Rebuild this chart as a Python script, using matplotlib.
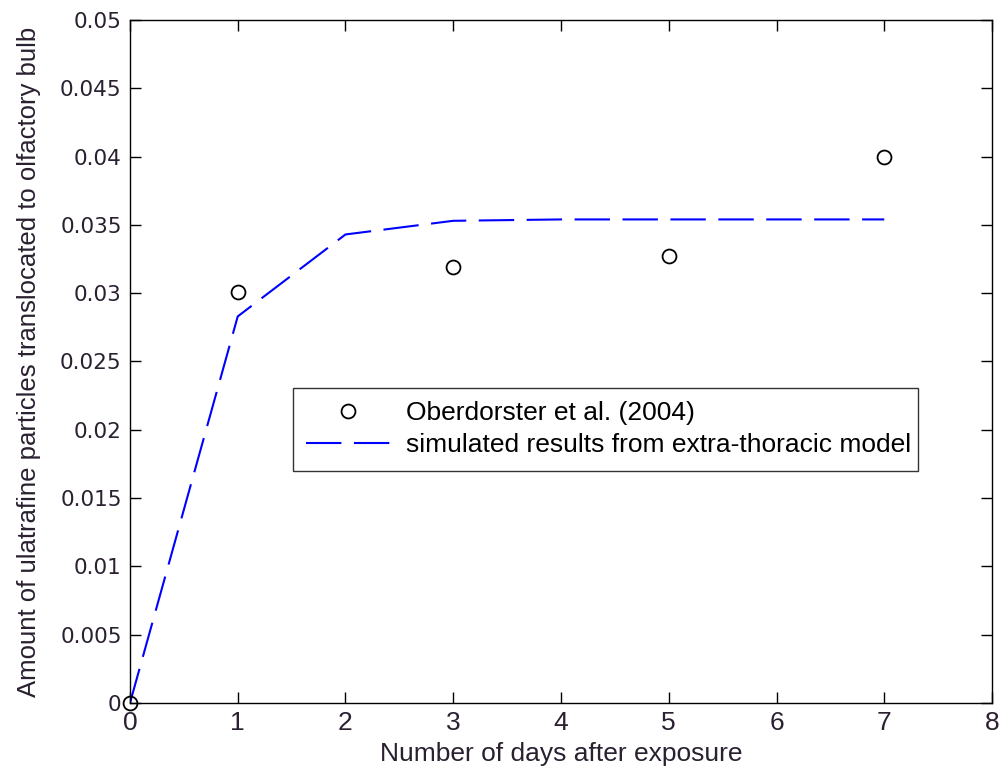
import matplotlib.pyplot as plt

# measured points
obs_days = [0, 1, 3, 5, 7]
obs_amount = [0.0, 0.0301, 0.0319, 0.0327, 0.0400]

# extra-thoracic model output
sim_days = [0, 1, 2, 3, 4, 5, 6, 7]
sim_amount = [0.0, 0.0283, 0.0343, 0.0353, 0.0354, 0.0354, 0.0354, 0.0354]

xticks = [0, 1, 2, 3, 4, 5, 6, 7, 8]
yticks = [0, 0.005, 0.01, 0.015, 0.02, 0.025, 0.03, 0.035, 0.04, 0.045, 0.05]
ytick_labels = ['0', '0.005', '0.01', '0.015', '0.02', '0.025', '0.03',
                '0.035', '0.04', '0.045', '0.05']

sans = 'Liberation Sans'

fig = plt.figure(figsize=(10.06, 7.78), dpi=100)
ax = fig.add_axes([0.1292, 0.0964, 0.8569, 0.8779])

ax.plot(obs_days, obs_amount, linestyle='none', marker='o', markersize=10,
        markerfacecolor='none', markeredgecolor='black', markeredgewidth=1.3,
        clip_on=False, label='Oberdorster et al. (2004)', zorder=3)
ax.plot(sim_days, sim_amount, color='#0000ff', linewidth=1.5,
        dashes=(17, 6), label='simulated results from extra-thoracic model',
        zorder=2)

ax.set_xlim(0, 8)
ax.set_ylim(0, 0.05)
ax.set_xticks(xticks)
ax.set_yticks(yticks)
ax.set_xticklabels([str(t) for t in xticks], family=sans, fontsize=19,
                   color='#2a2030')
ax.set_yticklabels(ytick_labels, family='DejaVu Sans', fontsize=15.5,
                   color='#2a2030')
ax.tick_params(direction='in', length=8, width=1, top=True, right=True,
               pad=6)
for s in ax.spines.values():
    s.set_linewidth(1)

ax.set_xlabel('Number of days after exposure', family=sans, fontsize=19,
              labelpad=5, color='#2a2030')
ax.set_ylabel('Amount of ulatrafine particles translocated to olfactory bulb',
              family=sans, fontsize=18.5, labelpad=14, color='#2a2030')

leg = ax.legend(loc='center', bbox_to_anchor=(0.189, 0.338, 0.725, 0.125),
                mode='expand', prop={'family': sans, 'size': 19},
                frameon=True, fancybox=False, handlelength=3.2,
                borderaxespad=0, borderpad=0.5, labelspacing=0.3,
                handletextpad=0.6)
leg.get_frame().set_edgecolor('black')
leg.get_frame().set_linewidth(1)

fig.savefig('out.png', dpi=100)
